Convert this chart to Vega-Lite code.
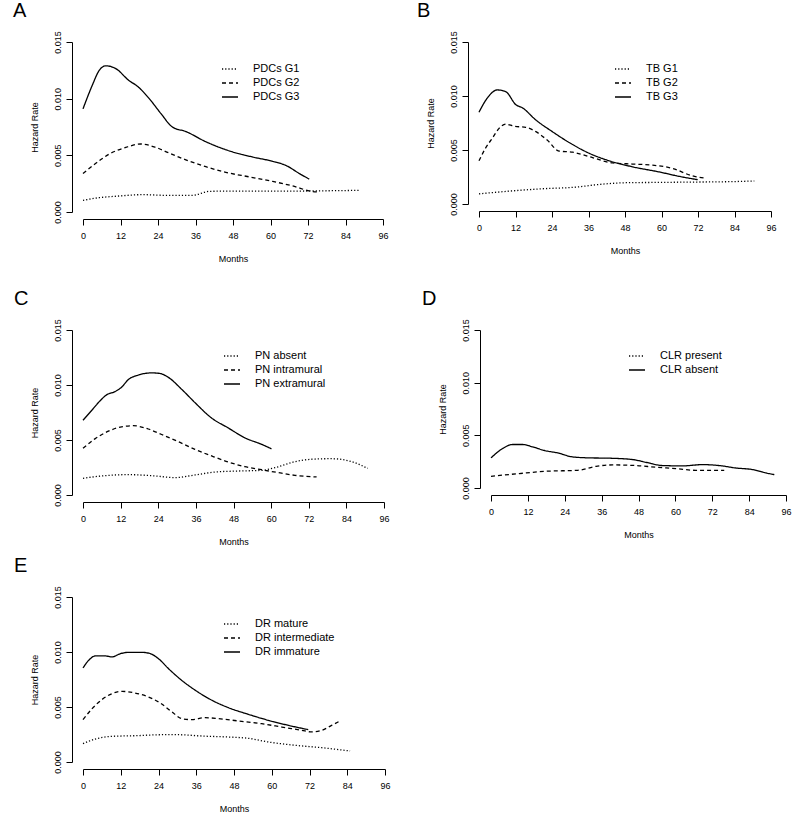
{
  "$schema": "https://vega.github.io/schema/vega-lite/v6.json",
  "padding": {"left": 13, "top": 0, "right": 5, "bottom": 5},
  "background": "white",
  "resolve": {"scale": {"strokeDash": "independent"}, "legend": {"strokeDash": "independent"}},
  "config": {
    "font": "Liberation Sans",
    "view": {"stroke": null},
    "axis": {"grid": false, "domainColor": "black", "tickColor": "black", "labelColor": "black", "titleColor": "black", "labelFontSize": 9, "titleFontSize": 9, "titleFontWeight": "normal", "tickSize": 6, "domainWidth": 1, "tickWidth": 1, "labelFont": "Liberation Sans", "titleFont": "Liberation Sans", "labelOverlap": false},
    "axisX": {"offset": 7, "labelPadding": 6, "titlePadding": 14, "labelFlush": false},
    "axisY": {"offset": 11, "labelAngle": -90, "labelAlign": "center", "labelBaseline": "bottom", "labelPadding": 4, "titlePadding": 14},
    "legend": {"title": null, "symbolType": "stroke", "symbolStrokeColor": "black", "symbolSize": 256, "symbolStrokeWidth": 1.2, "labelFontSize": 11, "labelColor": "black", "labelFont": "Liberation Sans", "labelOffset": 14, "rowPadding": 0, "padding": 0},
    "title": {"fontSize": 20, "fontWeight": "normal", "anchor": "start", "frame": "bounds", "offset": 10, "baseline": "alphabetic", "color": "black", "font": "Liberation Sans"},
    "line": {"color": "black", "strokeWidth": 1.3, "interpolate": "monotone"}
  },
  "datasets": {
    "A": [
      {"month": 0, "hazard": 0.0091, "group": "PDCs G3"}, {"month": 3, "hazard": 0.0112, "group": "PDCs G3"}, {"month": 5.2, "hazard": 0.0125, "group": "PDCs G3"}, {"month": 7.3, "hazard": 0.0129, "group": "PDCs G3"}, {"month": 10.5, "hazard": 0.01265, "group": "PDCs G3"}, {"month": 14.7, "hazard": 0.0116, "group": "PDCs G3"}, {"month": 17.4, "hazard": 0.0111, "group": "PDCs G3"}, {"month": 21.2, "hazard": 0.0100, "group": "PDCs G3"}, {"month": 24.9, "hazard": 0.0087, "group": "PDCs G3"}, {"month": 28.6, "hazard": 0.0075, "group": "PDCs G3"}, {"month": 32.9, "hazard": 0.0071, "group": "PDCs G3"}, {"month": 39.3, "hazard": 0.0062, "group": "PDCs G3"}, {"month": 47.9, "hazard": 0.0053, "group": "PDCs G3"}, {"month": 54.3, "hazard": 0.00485, "group": "PDCs G3"}, {"month": 60.7, "hazard": 0.00447, "group": "PDCs G3"}, {"month": 65, "hazard": 0.0041, "group": "PDCs G3"}, {"month": 69.2, "hazard": 0.0034, "group": "PDCs G3"}, {"month": 72.4, "hazard": 0.0029, "group": "PDCs G3"},
      {"month": 0, "hazard": 0.0034, "group": "PDCs G2"}, {"month": 4.1, "hazard": 0.0043, "group": "PDCs G2"}, {"month": 8.3, "hazard": 0.0051, "group": "PDCs G2"}, {"month": 13.7, "hazard": 0.0057, "group": "PDCs G2"}, {"month": 18.5, "hazard": 0.0060, "group": "PDCs G2"}, {"month": 23.3, "hazard": 0.0057, "group": "PDCs G2"}, {"month": 27.6, "hazard": 0.0052, "group": "PDCs G2"}, {"month": 32.9, "hazard": 0.0046, "group": "PDCs G2"}, {"month": 39.3, "hazard": 0.0040, "group": "PDCs G2"}, {"month": 45.7, "hazard": 0.0035, "group": "PDCs G2"}, {"month": 53.2, "hazard": 0.0031, "group": "PDCs G2"}, {"month": 60.7, "hazard": 0.0027, "group": "PDCs G2"}, {"month": 67.1, "hazard": 0.0023, "group": "PDCs G2"}, {"month": 73.5, "hazard": 0.0018, "group": "PDCs G2"}, {"month": 75.6, "hazard": 0.00176, "group": "PDCs G2"},
      {"month": 0, "hazard": 0.00103, "group": "PDCs G1"}, {"month": 5.1, "hazard": 0.00126, "group": "PDCs G1"}, {"month": 11.5, "hazard": 0.00141, "group": "PDCs G1"}, {"month": 19, "hazard": 0.00153, "group": "PDCs G1"}, {"month": 26.5, "hazard": 0.00147, "group": "PDCs G1"}, {"month": 35, "hazard": 0.00147, "group": "PDCs G1"}, {"month": 40.4, "hazard": 0.00182, "group": "PDCs G1"}, {"month": 47.9, "hazard": 0.00185, "group": "PDCs G1"}, {"month": 58.5, "hazard": 0.00185, "group": "PDCs G1"}, {"month": 69.2, "hazard": 0.00185, "group": "PDCs G1"}, {"month": 79.9, "hazard": 0.00188, "group": "PDCs G1"}, {"month": 88.5, "hazard": 0.00191, "group": "PDCs G1"}
    ],
    "B": [
      {"month": 0, "hazard": 0.0085, "group": "TB G3"}, {"month": 2.7, "hazard": 0.0098, "group": "TB G3"}, {"month": 6, "hazard": 0.01056, "group": "TB G3"}, {"month": 8.8, "hazard": 0.0104, "group": "TB G3"}, {"month": 12.1, "hazard": 0.0092, "group": "TB G3"}, {"month": 14.3, "hazard": 0.0089, "group": "TB G3"}, {"month": 18.6, "hazard": 0.0078, "group": "TB G3"}, {"month": 24.1, "hazard": 0.0067, "group": "TB G3"}, {"month": 29.6, "hazard": 0.0057, "group": "TB G3"}, {"month": 36.2, "hazard": 0.0047, "group": "TB G3"}, {"month": 42.8, "hazard": 0.0040, "group": "TB G3"}, {"month": 50.5, "hazard": 0.00344, "group": "TB G3"}, {"month": 59.2, "hazard": 0.00297, "group": "TB G3"}, {"month": 65.8, "hazard": 0.00256, "group": "TB G3"}, {"month": 71.9, "hazard": 0.00225, "group": "TB G3"},
      {"month": 0, "hazard": 0.0040, "group": "TB G2"}, {"month": 2.2, "hazard": 0.0052, "group": "TB G2"}, {"month": 4.4, "hazard": 0.0061, "group": "TB G2"}, {"month": 6.6, "hazard": 0.0070, "group": "TB G2"}, {"month": 8.8, "hazard": 0.0074, "group": "TB G2"}, {"month": 11.5, "hazard": 0.0072, "group": "TB G2"}, {"month": 15.4, "hazard": 0.0071, "group": "TB G2"}, {"month": 18.7, "hazard": 0.0067, "group": "TB G2"}, {"month": 22.5, "hazard": 0.0059, "group": "TB G2"}, {"month": 26.3, "hazard": 0.0049, "group": "TB G2"}, {"month": 30.7, "hazard": 0.0048, "group": "TB G2"}, {"month": 37.3, "hazard": 0.0043, "group": "TB G2"}, {"month": 43.9, "hazard": 0.0038, "group": "TB G2"}, {"month": 50.5, "hazard": 0.0037, "group": "TB G2"}, {"month": 57, "hazard": 0.0036, "group": "TB G2"}, {"month": 63.6, "hazard": 0.0033, "group": "TB G2"}, {"month": 70.2, "hazard": 0.0026, "group": "TB G2"}, {"month": 74.6, "hazard": 0.0024, "group": "TB G2"},
      {"month": 0, "hazard": 0.00094, "group": "TB G1"}, {"month": 9.9, "hazard": 0.00119, "group": "TB G1"}, {"month": 20.8, "hazard": 0.00141, "group": "TB G1"}, {"month": 31.8, "hazard": 0.00156, "group": "TB G1"}, {"month": 39.5, "hazard": 0.00181, "group": "TB G1"}, {"month": 48.3, "hazard": 0.00197, "group": "TB G1"}, {"month": 59.2, "hazard": 0.0020, "group": "TB G1"}, {"month": 70.2, "hazard": 0.00203, "group": "TB G1"}, {"month": 81.2, "hazard": 0.00206, "group": "TB G1"}, {"month": 90.5, "hazard": 0.00213, "group": "TB G1"}
    ],
    "C": [
      {"month": 0, "hazard": 0.0068, "group": "PN extramural"}, {"month": 2.8, "hazard": 0.0077, "group": "PN extramural"}, {"month": 5.4, "hazard": 0.00855, "group": "PN extramural"}, {"month": 7.5, "hazard": 0.0091, "group": "PN extramural"}, {"month": 10.2, "hazard": 0.0094, "group": "PN extramural"}, {"month": 12.3, "hazard": 0.0098, "group": "PN extramural"}, {"month": 14.5, "hazard": 0.0105, "group": "PN extramural"}, {"month": 17.6, "hazard": 0.0109, "group": "PN extramural"}, {"month": 21.9, "hazard": 0.0111, "group": "PN extramural"}, {"month": 24.5, "hazard": 0.01105, "group": "PN extramural"}, {"month": 27.2, "hazard": 0.0107, "group": "PN extramural"}, {"month": 31.5, "hazard": 0.0096, "group": "PN extramural"}, {"month": 35.7, "hazard": 0.0084, "group": "PN extramural"}, {"month": 41, "hazard": 0.0070, "group": "PN extramural"}, {"month": 46.3, "hazard": 0.0061, "group": "PN extramural"}, {"month": 51.6, "hazard": 0.0052, "group": "PN extramural"}, {"month": 57, "hazard": 0.0046, "group": "PN extramural"}, {"month": 60.1, "hazard": 0.0042, "group": "PN extramural"},
      {"month": 0, "hazard": 0.00424, "group": "PN intramural"}, {"month": 3.8, "hazard": 0.0051, "group": "PN intramural"}, {"month": 8.1, "hazard": 0.0058, "group": "PN intramural"}, {"month": 12.3, "hazard": 0.0062, "group": "PN intramural"}, {"month": 16, "hazard": 0.0063, "group": "PN intramural"}, {"month": 20.8, "hazard": 0.0060, "group": "PN intramural"}, {"month": 25.1, "hazard": 0.0055, "group": "PN intramural"}, {"month": 30.4, "hazard": 0.00485, "group": "PN intramural"}, {"month": 35.7, "hazard": 0.00415, "group": "PN intramural"}, {"month": 41, "hazard": 0.00355, "group": "PN intramural"}, {"month": 46.3, "hazard": 0.0030, "group": "PN intramural"}, {"month": 51.6, "hazard": 0.00258, "group": "PN intramural"}, {"month": 57, "hazard": 0.0023, "group": "PN intramural"}, {"month": 62.3, "hazard": 0.00203, "group": "PN intramural"}, {"month": 67.6, "hazard": 0.00179, "group": "PN intramural"}, {"month": 74.5, "hazard": 0.00164, "group": "PN intramural"},
      {"month": 0, "hazard": 0.00152, "group": "PN absent"}, {"month": 6, "hazard": 0.00173, "group": "PN absent"}, {"month": 14.5, "hazard": 0.00185, "group": "PN absent"}, {"month": 23, "hazard": 0.00173, "group": "PN absent"}, {"month": 29.3, "hazard": 0.00158, "group": "PN absent"}, {"month": 35.7, "hazard": 0.00182, "group": "PN absent"}, {"month": 42.1, "hazard": 0.00209, "group": "PN absent"}, {"month": 49.5, "hazard": 0.00218, "group": "PN absent"}, {"month": 57, "hazard": 0.00224, "group": "PN absent"}, {"month": 61.2, "hazard": 0.00248, "group": "PN absent"}, {"month": 67.6, "hazard": 0.00303, "group": "PN absent"}, {"month": 74, "hazard": 0.00327, "group": "PN absent"}, {"month": 79.3, "hazard": 0.0033, "group": "PN absent"}, {"month": 85.7, "hazard": 0.00303, "group": "PN absent"}, {"month": 90.8, "hazard": 0.00242, "group": "PN absent"}
    ],
    "D": [
      {"month": 0, "hazard": 0.00286, "group": "CLR absent"}, {"month": 3.8, "hazard": 0.00375, "group": "CLR absent"}, {"month": 7, "hazard": 0.00413, "group": "CLR absent"}, {"month": 10.3, "hazard": 0.00413, "group": "CLR absent"}, {"month": 13.6, "hazard": 0.0039, "group": "CLR absent"}, {"month": 17.4, "hazard": 0.00356, "group": "CLR absent"}, {"month": 21.7, "hazard": 0.00333, "group": "CLR absent"}, {"month": 26.6, "hazard": 0.00295, "group": "CLR absent"}, {"month": 32, "hazard": 0.00286, "group": "CLR absent"}, {"month": 38.5, "hazard": 0.00283, "group": "CLR absent"}, {"month": 46.1, "hazard": 0.0027, "group": "CLR absent"}, {"month": 50.4, "hazard": 0.00244, "group": "CLR absent"}, {"month": 55.9, "hazard": 0.00213, "group": "CLR absent"}, {"month": 62.4, "hazard": 0.0021, "group": "CLR absent"}, {"month": 68.9, "hazard": 0.00222, "group": "CLR absent"}, {"month": 74.3, "hazard": 0.00213, "group": "CLR absent"}, {"month": 79.7, "hazard": 0.0019, "group": "CLR absent"}, {"month": 85.1, "hazard": 0.00175, "group": "CLR absent"}, {"month": 89.5, "hazard": 0.00143, "group": "CLR absent"}, {"month": 92.2, "hazard": 0.00127, "group": "CLR absent"},
      {"month": 0, "hazard": 0.00111, "group": "CLR present"}, {"month": 9.2, "hazard": 0.00137, "group": "CLR present"}, {"month": 17.9, "hazard": 0.00159, "group": "CLR present"}, {"month": 28.2, "hazard": 0.00168, "group": "CLR present"}, {"month": 34.2, "hazard": 0.00206, "group": "CLR present"}, {"month": 39.6, "hazard": 0.00219, "group": "CLR present"}, {"month": 47.2, "hazard": 0.00213, "group": "CLR present"}, {"month": 53.7, "hazard": 0.00197, "group": "CLR present"}, {"month": 60.2, "hazard": 0.00184, "group": "CLR present"}, {"month": 66.7, "hazard": 0.00168, "group": "CLR present"}, {"month": 75.9, "hazard": 0.00168, "group": "CLR present"}
    ],
    "E": [
      {"month": 0, "hazard": 0.00855, "group": "DR immature"}, {"month": 1.8, "hazard": 0.00924, "group": "DR immature"}, {"month": 3.9, "hazard": 0.00964, "group": "DR immature"}, {"month": 7.1, "hazard": 0.00964, "group": "DR immature"}, {"month": 9.2, "hazard": 0.00955, "group": "DR immature"}, {"month": 11.9, "hazard": 0.00985, "group": "DR immature"}, {"month": 14.5, "hazard": 0.00997, "group": "DR immature"}, {"month": 18.7, "hazard": 0.00997, "group": "DR immature"}, {"month": 21.4, "hazard": 0.00985, "group": "DR immature"}, {"month": 24, "hazard": 0.00939, "group": "DR immature"}, {"month": 27.2, "hazard": 0.00848, "group": "DR immature"}, {"month": 31.4, "hazard": 0.00742, "group": "DR immature"}, {"month": 35.7, "hazard": 0.00652, "group": "DR immature"}, {"month": 41, "hazard": 0.00561, "group": "DR immature"}, {"month": 46.2, "hazard": 0.00494, "group": "DR immature"}, {"month": 52.6, "hazard": 0.00433, "group": "DR immature"}, {"month": 58.9, "hazard": 0.00379, "group": "DR immature"}, {"month": 65.3, "hazard": 0.00333, "group": "DR immature"}, {"month": 71.6, "hazard": 0.00294, "group": "DR immature"},
      {"month": 0, "hazard": 0.00385, "group": "DR intermediate"}, {"month": 2.9, "hazard": 0.00485, "group": "DR intermediate"}, {"month": 6, "hazard": 0.00567, "group": "DR intermediate"}, {"month": 9.2, "hazard": 0.00621, "group": "DR intermediate"}, {"month": 12.4, "hazard": 0.00642, "group": "DR intermediate"}, {"month": 16.6, "hazard": 0.00627, "group": "DR intermediate"}, {"month": 20.8, "hazard": 0.00591, "group": "DR intermediate"}, {"month": 24.6, "hazard": 0.00536, "group": "DR intermediate"}, {"month": 28.3, "hazard": 0.00455, "group": "DR intermediate"}, {"month": 31.4, "hazard": 0.00394, "group": "DR intermediate"}, {"month": 34.6, "hazard": 0.00385, "group": "DR intermediate"}, {"month": 38.8, "hazard": 0.00403, "group": "DR intermediate"}, {"month": 43.1, "hazard": 0.00394, "group": "DR intermediate"}, {"month": 49.4, "hazard": 0.00373, "group": "DR intermediate"}, {"month": 56.8, "hazard": 0.00348, "group": "DR intermediate"}, {"month": 63.2, "hazard": 0.00318, "group": "DR intermediate"}, {"month": 69.5, "hazard": 0.00288, "group": "DR intermediate"}, {"month": 72.7, "hazard": 0.00273, "group": "DR intermediate"}, {"month": 75.9, "hazard": 0.00288, "group": "DR intermediate"}, {"month": 79, "hazard": 0.00333, "group": "DR intermediate"}, {"month": 81.7, "hazard": 0.00373, "group": "DR intermediate"},
      {"month": 0, "hazard": 0.00167, "group": "DR mature"}, {"month": 3.9, "hazard": 0.00209, "group": "DR mature"}, {"month": 9.2, "hazard": 0.00233, "group": "DR mature"}, {"month": 16.6, "hazard": 0.00239, "group": "DR mature"}, {"month": 25.1, "hazard": 0.00248, "group": "DR mature"}, {"month": 30.4, "hazard": 0.00248, "group": "DR mature"}, {"month": 37.8, "hazard": 0.00236, "group": "DR mature"}, {"month": 46.2, "hazard": 0.00227, "group": "DR mature"}, {"month": 52.6, "hazard": 0.00215, "group": "DR mature"}, {"month": 58.9, "hazard": 0.00182, "group": "DR mature"}, {"month": 67.4, "hazard": 0.00152, "group": "DR mature"}, {"month": 75.9, "hazard": 0.0013, "group": "DR mature"}, {"month": 84.9, "hazard": 0.0010, "group": "DR mature"}
    ]
  },
  "vconcat": [
    {
      "resolve": {"scale": {"strokeDash": "independent"}, "legend": {"strokeDash": "independent"}},
      "vconcat": [
        {
          "resolve": {"scale": {"strokeDash": "independent"}, "legend": {"strokeDash": "independent"}},
          "hconcat": [
            {
              "title": {"text": "A", "dx": -17},
              "width": 300, "height": 170,
              "data": {"name": "A"},
              "mark": {"type": "line"},
              "encoding": {
                "x": {"field": "month", "type": "quantitative", "scale": {"domain": [0, 96], "nice": false}, "axis": {"title": "Months", "values": [0, 12, 24, 36, 48, 60, 72, 84, 96]}},
                "y": {"field": "hazard", "type": "quantitative", "scale": {"domain": [0, 0.015], "nice": false}, "axis": {"title": "Hazard Rate", "values": [0, 0.005, 0.01, 0.015], "format": ".3f"}},
                "strokeDash": {"field": "group", "type": "nominal", "scale": {"domain": ["PDCs G1", "PDCs G2", "PDCs G3"], "range": [[1.2, 2], [4, 3], [1, 0]]}, "legend": {"orient": "none", "legendX": 138, "legendY": 18}}
              }
            },
            {
              "title": {"text": "B", "dx": -9},
              "width": 292, "height": 162,
              "data": {"name": "B"},
              "mark": {"type": "line"},
              "encoding": {
                "x": {"field": "month", "type": "quantitative", "scale": {"domain": [0, 96], "nice": false}, "axis": {"title": "Months", "values": [0, 12, 24, 36, 48, 60, 72, 84, 96]}},
                "y": {"field": "hazard", "type": "quantitative", "scale": {"domain": [0, 0.015], "nice": false}, "axis": {"title": "Hazard Rate", "values": [0, 0.005, 0.01, 0.015], "format": ".3f"}},
                "strokeDash": {"field": "group", "type": "nominal", "scale": {"domain": ["TB G1", "TB G2", "TB G3"], "range": [[1.2, 2], [4, 3], [1, 0]]}, "legend": {"orient": "none", "legendX": 135, "legendY": 18}}
              }
            }
          ],
          "spacing": 28
        },
        {
          "resolve": {"scale": {"strokeDash": "independent"}, "legend": {"strokeDash": "independent"}},
          "hconcat": [
            {
              "title": {"text": "C", "dx": -16},
              "width": 301, "height": 165,
              "data": {"name": "C"},
              "mark": {"type": "line"},
              "encoding": {
                "x": {"field": "month", "type": "quantitative", "scale": {"domain": [0, 96], "nice": false}, "axis": {"title": "Months", "values": [0, 12, 24, 36, 48, 60, 72, 84, 96]}},
                "y": {"field": "hazard", "type": "quantitative", "scale": {"domain": [0, 0.015], "nice": false}, "axis": {"title": "Hazard Rate", "values": [0, 0.005, 0.01, 0.015], "format": ".3f"}},
                "strokeDash": {"field": "group", "type": "nominal", "scale": {"domain": ["PN absent", "PN intramural", "PN extramural"], "range": [[1.2, 2], [4, 3], [1, 0]]}, "legend": {"orient": "none", "legendX": 140, "legendY": 17}}
              }
            },
            {
              "title": {"text": "D", "dx": -16},
              "width": 295, "height": 158,
              "data": {"name": "D"},
              "encoding": {
                "x": {"field": "month", "type": "quantitative", "scale": {"domain": [0, 96], "nice": false}, "axis": {"title": "Months", "values": [0, 12, 24, 36, 48, 60, 72, 84, 96]}},
                "y": {"field": "hazard", "type": "quantitative", "scale": {"domain": [0, 0.015], "nice": false}, "axis": {"title": "Hazard Rate", "values": [0, 0.005, 0.01, 0.015], "format": ".3f"}}
              },
              "layer": [
                {
                  "transform": [{"filter": "datum.group === 'CLR absent'"}],
                  "mark": {"type": "line"},
                  "encoding": {
                    "strokeDash": {"field": "group", "type": "nominal", "scale": {"domain": ["CLR present", "CLR absent"], "range": [[1.2, 2], [1, 0]]}, "legend": {"orient": "none", "legendX": 137, "legendY": 17}}
                  }
                },
                {
                  "transform": [{"filter": "datum.group === 'CLR present'"}],
                  "mark": {"type": "line", "strokeDash": [4, 3]},
                  "encoding": {}
                }
              ]
            }
          ],
          "spacing": 32
        }
      ],
      "spacing": 25
    },
    {
      "title": {"text": "E", "dx": -16},
      "width": 302, "height": 165,
      "data": {"name": "E"},
      "mark": {"type": "line"},
      "encoding": {
        "x": {"field": "month", "type": "quantitative", "scale": {"domain": [0, 96], "nice": false}, "axis": {"title": "Months", "values": [0, 12, 24, 36, 48, 60, 72, 84, 96]}},
        "y": {"field": "hazard", "type": "quantitative", "scale": {"domain": [0, 0.015], "nice": false}, "axis": {"title": "Hazard Rate", "values": [0, 0.005, 0.01, 0.015], "format": ".3f"}},
        "strokeDash": {"field": "group", "type": "nominal", "scale": {"domain": ["DR mature", "DR intermediate", "DR immature"], "range": [[1.2, 2], [4, 3], [1, 0]]}, "legend": {"orient": "none", "legendX": 140, "legendY": 18}}
      }
    }
  ],
  "spacing": 9
}
